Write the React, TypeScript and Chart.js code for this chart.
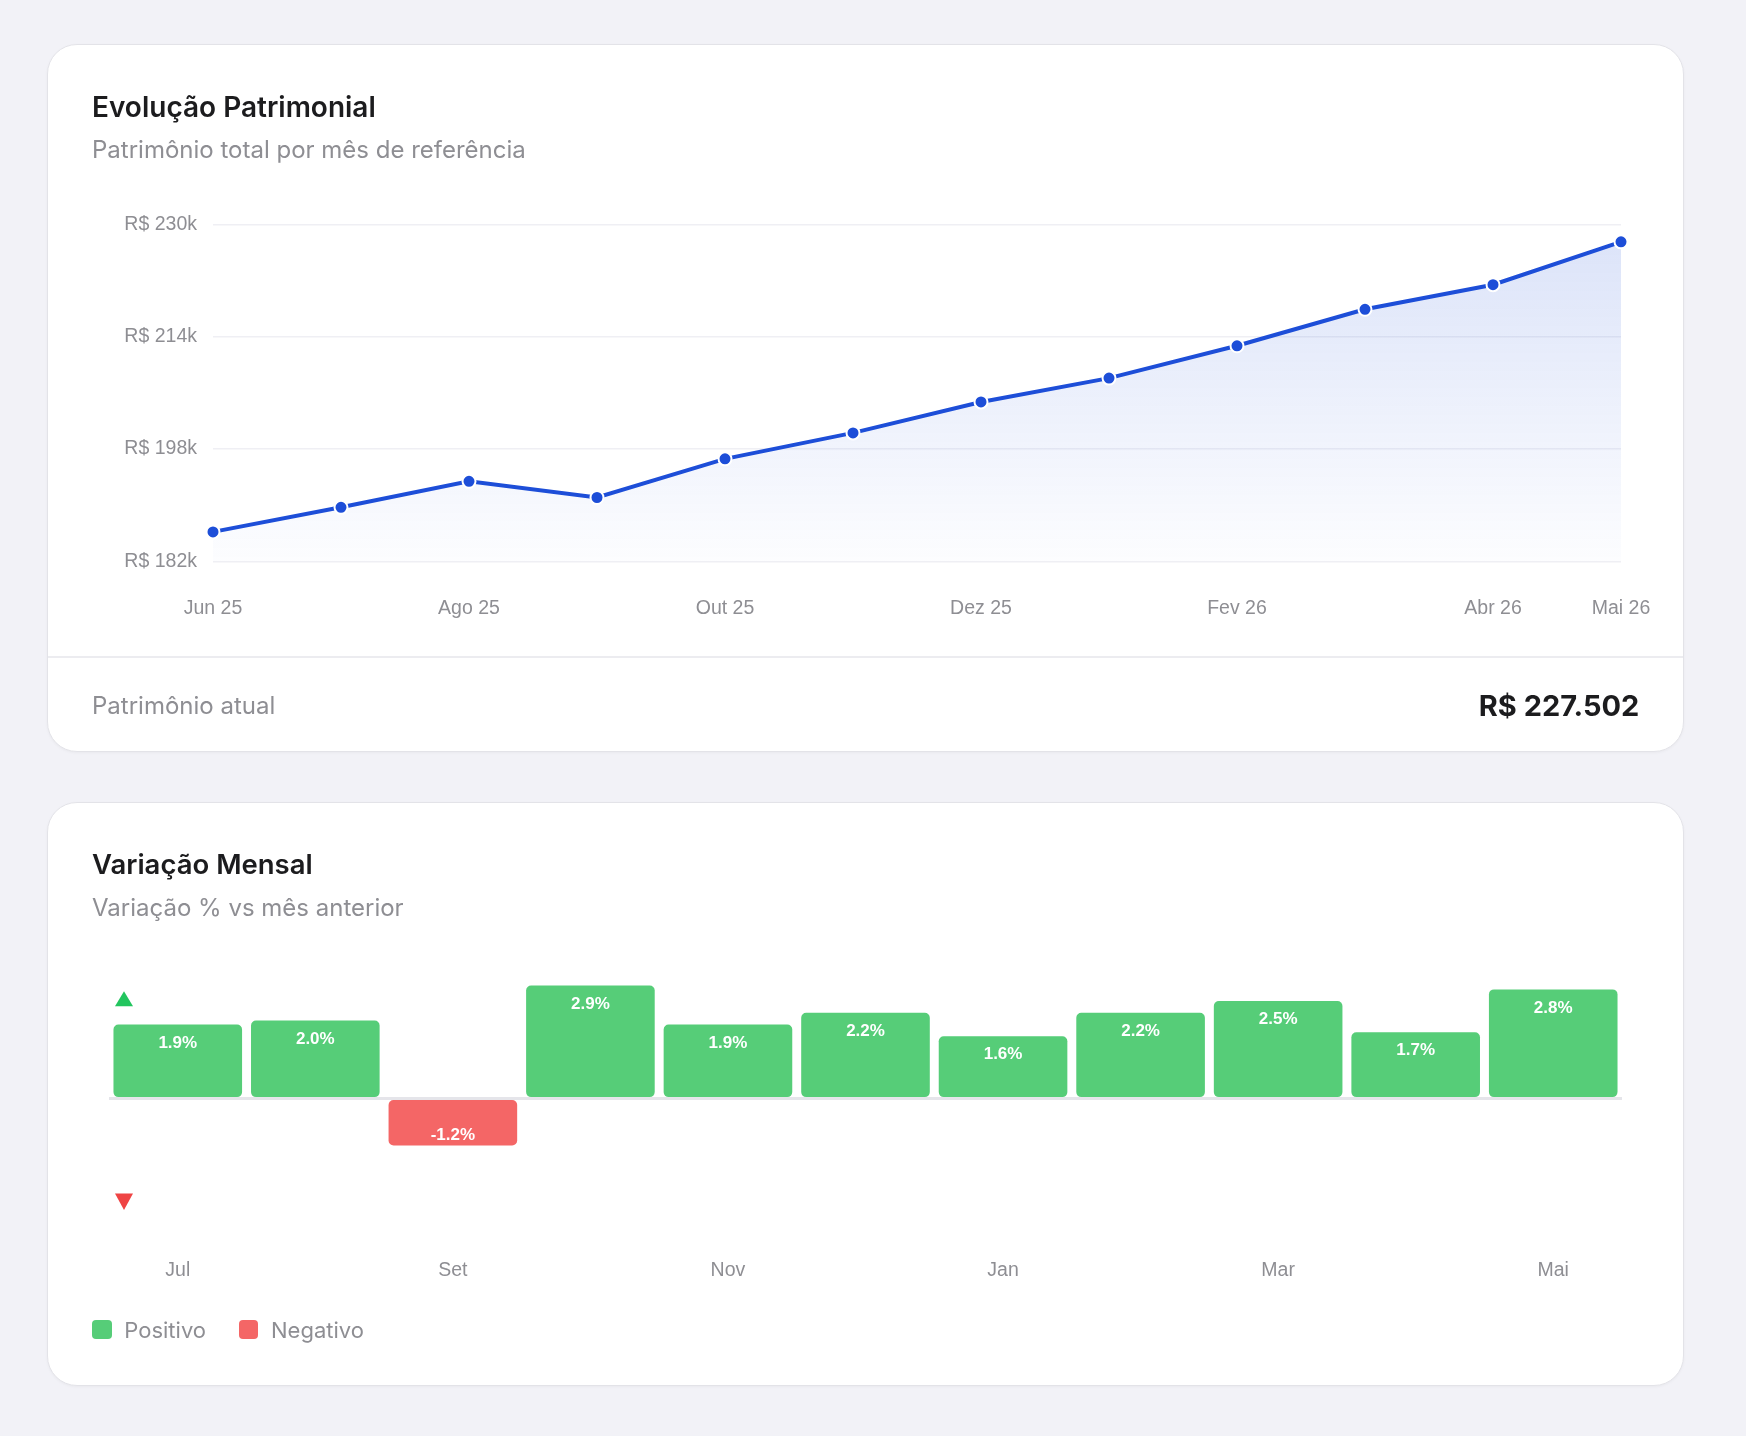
import React, { useEffect, useRef } from 'react';
import { Chart, registerables } from 'chart.js';

Chart.register(...registerables);

// ---- Data ----
const months = ['Jun 25', 'Jul 25', 'Ago 25', 'Set 25', 'Out 25', 'Nov 25', 'Dez 25', 'Jan 26', 'Fev 26', 'Mar 26', 'Abr 26', 'Mai 26'];
const patrimonio = [186200, 189700, 193400, 191100, 196600, 200300, 204700, 208100, 212700, 217900, 221400, 227502];
const yTickValues = [182000, 198000, 214000, 230000];

const varMonths = ['Jul', 'Ago', 'Set', 'Out', 'Nov', 'Dez', 'Jan', 'Fev', 'Mar', 'Abr', 'Mai'];
const variacao = [1.9, 2.0, -1.2, 2.9, 1.9, 2.2, 1.6, 2.2, 2.5, 1.7, 2.8];

const patrimonioAtual = 'R$ 227.502';

// ---- Styles ----
const BLUE = '#1d4ed8';
const GREEN = '#56cd78';
const RED = '#f46666';
const GRAY = '#8e8e93';
const TICK_FONT = "'Liberation Sans', Arial, Helvetica, sans-serif";
const UI_FONT = "Inter, 'Noto Sans', sans-serif";

const zeroPad = (s: any) => {
  s.paddingLeft = 0;
  s.paddingRight = 0;
  s.paddingTop = 0;
  s.paddingBottom = 0;
};

function LineChart() {
  const ref = useRef<HTMLCanvasElement | null>(null);
  useEffect(() => {
    if (!ref.current) return;
    const chart = new Chart(ref.current, {
      type: 'line',
      data: {
        labels: months,
        datasets: [
          {
            data: patrimonio,
            borderColor: BLUE,
            borderWidth: 4,
            tension: 0,
            fill: 'start',
            backgroundColor: (c: any) => {
              const area = c.chart.chartArea;
              if (!area) return 'rgba(29,78,216,0.08)';
              const g = c.chart.ctx.createLinearGradient(0, area.top, 0, area.bottom);
              g.addColorStop(0, 'rgba(29,78,216,0.16)');
              g.addColorStop(1, 'rgba(29,78,216,0.01)');
              return g;
            },
            pointRadius: 6.5,
            pointBackgroundColor: BLUE,
            pointBorderColor: '#ffffff',
            pointBorderWidth: 2,
          },
        ],
      },
      options: {
        animation: false,
        responsive: false,
        devicePixelRatio: 1,
        layout: { padding: { top: 24.3, right: 40, bottom: 0, left: 0 } },
        plugins: { legend: { display: false }, tooltip: { enabled: false } },
        scales: {
          x: {
            offset: false,
            grid: { display: false },
            border: { display: false },
            ticks: {
              autoSkip: false,
              maxRotation: 0,
              padding: 27.8,
              color: GRAY,
              font: { size: 19.5, family: TICK_FONT },
              callback: (_v: any, i: number) =>
                i % 2 === 0 || i === months.length - 1 ? months[i] : '',
            },
            afterFit: (s: any) => {
              s.height = 78.6;
              zeroPad(s);
            },
          },
          y: {
            min: 182000,
            max: 230000,
            afterBuildTicks: (s: any) => {
              s.ticks = yTickValues.map((v) => ({ value: v }));
            },
            grid: { color: '#efeff4', lineWidth: 1.5, drawTicks: false },
            border: { display: false },
            ticks: {
              padding: 16,
              color: GRAY,
              font: { size: 19.5, family: TICK_FONT },
              callback: (v: any) => 'R$ ' + Math.round(Number(v) / 1000) + 'k',
            },
            afterFit: (s: any) => {
              s.width = 113;
              zeroPad(s);
            },
          },
        },
      },
    } as any);
    return () => chart.destroy();
  }, []);
  return <canvas ref={ref} width={1561} height={440} style={{ display: 'block' }} />;
}

const barDecor = {
  id: 'barDecor',
  afterDatasetsDraw(chart: any) {
    const ctx = chart.ctx;
    const meta = chart.getDatasetMeta(0);
    ctx.save();
    ctx.font = `bold 17px ${TICK_FONT}`;
    ctx.fillStyle = '#ffffff';
    ctx.textAlign = 'center';
    ctx.textBaseline = 'middle';
    meta.data.forEach((bar: any, i: number) => {
      const v = variacao[i];
      const y = v >= 0 ? bar.y + 18.5 : bar.y - 10.5;
      ctx.fillText(v.toFixed(1) + '%', bar.x, y);
    });
    const { left, top, bottom } = chart.chartArea;
    const cx = left + 15;
    ctx.fillStyle = '#22c55e';
    ctx.beginPath();
    ctx.moveTo(cx, top + 17.5);
    ctx.lineTo(cx + 9, top + 32.5);
    ctx.lineTo(cx - 9, top + 32.5);
    ctx.closePath();
    ctx.fill();
    ctx.fillStyle = '#ef4444';
    ctx.beginPath();
    ctx.moveTo(cx - 9, bottom - 30);
    ctx.lineTo(cx + 9, bottom - 30);
    ctx.lineTo(cx, bottom - 13.5);
    ctx.closePath();
    ctx.fill();
    ctx.restore();
  },
};

function BarChart() {
  const ref = useRef<HTMLCanvasElement | null>(null);
  useEffect(() => {
    if (!ref.current) return;
    const chart = new Chart(ref.current, {
      type: 'bar',
      data: {
        labels: varMonths,
        datasets: [
          {
            data: variacao,
            backgroundColor: variacao.map((v) => (v >= 0 ? GREEN : RED)),
            borderRadius: 5,
            borderSkipped: false,
            categoryPercentage: 0.935,
            barPercentage: 1,
          },
        ],
      },
      options: {
        animation: false,
        responsive: false,
        devicePixelRatio: 1,
        layout: { padding: { top: 23.8, right: 18, bottom: 0, left: 9 } },
        plugins: { legend: { display: false }, tooltip: { enabled: false } },
        scales: {
          x: {
            offset: true,
            grid: { display: false },
            border: { display: false },
            ticks: {
              autoSkip: false,
              maxRotation: 0,
              padding: 27.3,
              color: GRAY,
              font: { size: 19.5, family: TICK_FONT },
              callback: (_v: any, i: number) => (i % 2 === 0 ? varMonths[i] : ''),
            },
            afterFit: (s: any) => {
              s.height = 76.6;
              zeroPad(s);
            },
          },
          y: {
            min: -3.2,
            max: 3.2,
            afterBuildTicks: (s: any) => {
              s.ticks = [{ value: 0 }];
            },
            grid: { color: '#e5e5ea', lineWidth: 3, drawTicks: false },
            border: { display: false },
            ticks: { display: false },
            afterFit: (s: any) => {
              s.width = 0;
              zeroPad(s);
            },
          },
        },
      },
      plugins: [barDecor],
    } as any);
    return () => chart.destroy();
  }, []);
  return <canvas ref={ref} width={1540} height={350} style={{ display: 'block' }} />;
}

const cardStyle = (top: number, height: number): React.CSSProperties => ({
  position: 'absolute',
  left: 39,
  top,
  width: 1637,
  height,
  boxSizing: 'border-box',
  background: '#ffffff',
  border: '1px solid #e3e3e8',
  borderRadius: 30,
  boxShadow: '0 1px 3px rgba(0,0,0,0.04)',
});

const abs = (left: number, top: number, extra: React.CSSProperties = {}): React.CSSProperties => ({
  position: 'absolute',
  left,
  top,
  lineHeight: 1,
  whiteSpace: 'nowrap',
  fontFamily: UI_FONT,
  ...extra,
});

export default function App() {
  return (
    <div style={{ position: 'relative', width: 1730, height: 1420 }}>
      <div style={{ position: 'fixed', inset: 0, background: '#f2f2f7', zIndex: -1 }} />

      {/* Card 1 */}
      <div style={cardStyle(36, 708)}>
        <div style={abs(44, 48, { fontSize: 28, fontWeight: 600, color: '#1c1c1e' })}>Evolução Patrimonial</div>
        <div style={abs(44, 93.3, { fontSize: 24, color: GRAY })}>Patrimônio total por mês de referência</div>
        <div style={{ position: 'absolute', left: 52, top: 155 }}>
          <LineChart />
        </div>
        <div style={{ position: 'absolute', left: 0, right: 0, top: 611, height: 1.5, background: '#ececf0' }} />
        <div style={abs(44, 648.8, { fontSize: 24, color: GRAY })}>Patrimônio atual</div>
        <div
          style={{
            position: 'absolute',
            right: 43.7,
            top: 646,
            lineHeight: 1,
            whiteSpace: 'nowrap',
            fontFamily: UI_FONT,
            fontSize: 29,
            fontWeight: 700,
            color: '#1c1c1e',
          }}
        >
          {patrimonioAtual}
        </div>
      </div>

      {/* Card 2 */}
      <div style={cardStyle(794, 584)}>
        <div style={abs(44, 48, { fontSize: 27.5, fontWeight: 600, color: '#1c1c1e' })}>Variação Mensal</div>
        <div style={abs(44, 92.8, { fontSize: 24, color: GRAY })}>Variação % vs mês anterior</div>
        <div style={{ position: 'absolute', left: 52, top: 147 }}>
          <BarChart />
        </div>
        <div style={{ position: 'absolute', left: 44.3, top: 516.5, width: 19.4, height: 19.4, borderRadius: 4, background: GREEN }} />
        <div style={abs(76.3, 516, { fontSize: 22, color: GRAY })}>Positivo</div>
        <div style={{ position: 'absolute', left: 191, top: 516.5, width: 19.4, height: 19.4, borderRadius: 4, background: RED }} />
        <div style={abs(223, 516, { fontSize: 22, color: GRAY })}>Negativo</div>
      </div>
    </div>
  );
}
